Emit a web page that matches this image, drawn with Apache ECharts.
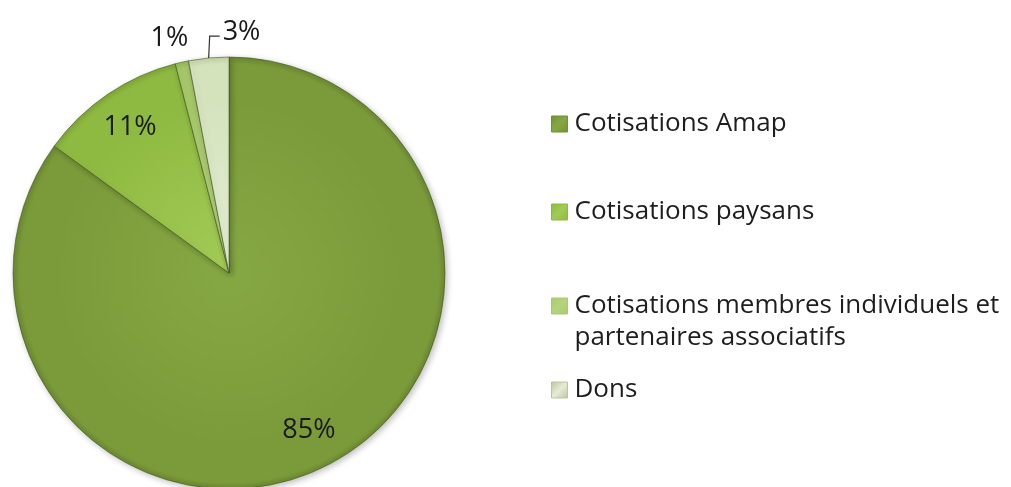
<!DOCTYPE html>
<html>
<head>
<meta charset="utf-8">
<script src="https://cdn.jsdelivr.net/npm/echarts@6/dist/echarts.min.js"></script>
<style>html,body{margin:0;padding:0;background:#fff;}#c{width:1011px;height:487px;}</style>
</head>
<body>
<div id="c"></div>
<script>
// ---- data ----
const categories = ['Cotisations Amap', 'Cotisations paysans', 'Cotisations membres individuels et partenaires associatifs', 'Dons'];
const values = [85, 11, 1, 3];
const legendLabels = ['Cotisations Amap', 'Cotisations paysans', 'Cotisations membres individuels et\npartenaires associatifs', 'Dons'];

// ---- styles ----
const sliceBase = ['#7b9b3a', '#8fba41', '#a6c86a', '#d5e3bd'];
const sliceLight = ['#86a843', '#a2cb56', '#b6d47e', '#e3edd3'];
const sliceDark = ['#6a8830', '#7ea636', '#94b95a', '#c2d2a6'];
const legendColors = ['#6f9234', '#8cba3d', '#a8cb6c', '#bcc49e'];
const legendCenters = [124, 212, 306, 390];
const CX = 229, CY = 273, R = 216;
const FONT = '"Open Sans", "Noto Sans", sans-serif';

function sliceFill(i) {
  return {
    type: 'radial', x: CX, y: CY, r: R, global: true,
    colorStops: [
      { offset: 0, color: sliceLight[i] },
      { offset: 0.8, color: sliceBase[i] },
      { offset: 0.97, color: sliceBase[i] },
      { offset: 1, color: sliceDark[i] }
    ]
  };
}

const shapeData = categories.map((n, i) => ({ name: n, value: values[i], itemStyle: { color: sliceFill(i) } }));
const labelData = categories.map((n, i) => {
  const d = { name: n, value: values[i] };
  if (i === 2) {
    d.label = { position: 'outside' };
    d.labelLine = { show: false, length: 12, length2: 0 };
  } else if (i === 3) {
    d.label = { position: 'outside' };
    d.labelLine = { show: true, length: 22, length2: 10 };
  }
  return d;
});

const legends = categories.map((n, i) => {
  const multi = legendLabels[i].indexOf('\n') >= 0;
  const LH = multi ? 32 : 31;
  return {
    orient: 'vertical',
    left: 551,
    top: legendCenters[i] - (multi ? LH * 1.5 : LH / 2),
    padding: 0,
    itemWidth: 16,
    itemHeight: 16,
    selectedMode: false,
    icon: 'rect',
    data: [{
      name: n,
      itemStyle: {
        color: {
          type: 'linear', x: 0, y: 0, x2: 1, y2: 1,
          colorStops: [{ offset: 0, color: legendColors[i] }, { offset: 0.5, color: sliceLight[i] }, { offset: 1, color: legendColors[i] }]
        },
        borderColor: legendColors[i], borderWidth: 1
      }
    }],
    // multi-line entry: a leading empty line keeps the first text line level with the icon
    formatter: function () { return multi ? '\n' + legendLabels[i] : legendLabels[i]; },
    textStyle: {
      fontFamily: FONT, fontSize: 26, color: '#1e1e1e', lineHeight: LH,
      padding: [0, 0, 0, 2]
    }
  };
});

const chart = echarts.init(document.getElementById('c'), null, { renderer: 'canvas' });
chart.setOption({
  backgroundColor: '#ffffff',
  animation: false,
  legend: legends,
  series: [
    {
      type: 'pie',
      center: [CX, CY],
      radius: [0, R],
      startAngle: 90,
      clockwise: true,
      silent: true,
      label: { show: false },
      labelLine: { show: false },
      emphasis: { disabled: true },
      itemStyle: {
        borderColor: 'rgba(60,80,25,0.55)',
        borderWidth: 1,
        shadowBlur: 6,
        shadowOffsetX: 2,
        shadowOffsetY: 2,
        shadowColor: 'rgba(0,0,0,0.25)'
      },
      data: shapeData
    },
    {
      type: 'pie',
      center: [CX, CY],
      radius: [130, R],
      startAngle: 90,
      clockwise: true,
      silent: true,
      avoidLabelOverlap: false,
      emphasis: { disabled: true },
      itemStyle: { color: 'rgba(0,0,0,0)' },
      label: {
        show: true,
        position: 'inside',
        formatter: '{c}%',
        fontFamily: FONT,
        fontSize: 27,
        color: '#1a1a1a'
      },
      labelLine: { lineStyle: { color: '#333', width: 1.2 } },
      labelLayout: function (p) {
        if (p.dataIndex === 3 && p.labelLinePoints) {
          const a = p.labelLinePoints[0], b = p.labelLinePoints[1];
          const bx = a[0] + 1, by = b[1];
          return {
            x: bx + 13, y: by - 4, align: 'left', verticalAlign: 'middle',
            labelLinePoints: [[a[0], a[1]], [bx, by], [bx + 10, by]]
          };
        }
        if (p.dataIndex === 2) {
          return { dx: 14, dy: -12 };
        }
      },
      data: labelData
    }
  ]
});
</script>
</body>
</html>
